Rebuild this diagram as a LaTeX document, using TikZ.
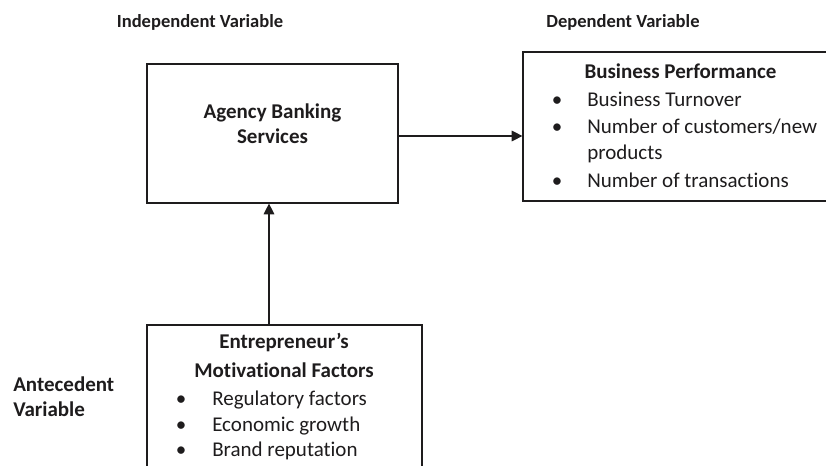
\documentclass[tikz,border=0pt]{standalone}
\usepackage{fontspec}
\setmainfont{Carlito}[Ligatures=NoCommon]
\usetikzlibrary{arrows.meta,calc}
\definecolor{ink}{HTML}{1E1C1D}
\begin{document}
\begin{tikzpicture}[x=0.75pt,y=0.75pt,yscale=-1,xscale=1,
  varbox/.style={draw=ink,line width=0.9pt,inner sep=0pt},
  headlbl/.style={text=ink,inner sep=0pt,anchor=base,font=\fontsize{13.9}{16}\selectfont\bfseries},
  boldlbl/.style={text=ink,inner sep=0pt,anchor=base,font=\fontsize{15.75}{19}\selectfont\bfseries},
  itemlbl/.style={text=ink,inner sep=0pt,anchor=base west,font=\fontsize{15.75}{19}\selectfont},
  bulletmark/.style={text=ink,inner sep=0pt,anchor=base,font=\fontsize{15.75}{19}\selectfont},
  arr/.style={draw=ink,line width=0.8pt,-{Triangle[length=8pt,width=8pt]}}]
\useasboundingbox (0,0) rectangle (826,466);
\clip (0,0) rectangle (826,466);
% boxes
\node (abs) [varbox,minimum width=188.25pt,minimum height=104.25pt] at (272.5,133.5) {};
\node (perf) [varbox,minimum width=241.5pt,minimum height=111.75pt] at (684,126.5) {};
\node (mot) [varbox,minimum width=206.25pt,minimum height=123.75pt] at (284.5,407.5) {};
% column headings
\node (indep) [headlbl] at (200,27.3) {Independent Variable};
\node (dep) [headlbl] at (623,27.3) {Dependent Variable};
\node (ante1) [boldlbl,anchor=base west] at (13,392) {Antecedent};
\node (ante2) [boldlbl,anchor=base west] at (13,417) {Variable};
% independent
\node (abs1) [boldlbl] at (272.5,119) {Agency Banking};
\node (abs2) [boldlbl] at (272.5,144) {Services};
% dependent
\node (perfhd) [boldlbl] at (680.5,79) {Business Performance};
\node (pb1) [bulletmark] at (557,107) {\textbullet};
\node (pt1) [itemlbl] at (587,107) {Business Turnover};
\node (pb2) [bulletmark] at (557,134) {\textbullet};
\node (pt2) [itemlbl] at (587,134) {Number of customers/new};
\node (pt2b) [itemlbl] at (587,160) {products};
\node (pb3) [bulletmark] at (557,188) {\textbullet};
\node (pt3) [itemlbl] at (587,188) {Number of transactions};
% antecedent
\node (mothd1) [boldlbl] at (284,349) {Entrepreneur’s};
\node (mothd2) [boldlbl] at (284,378) {Motivational Factors};
\node (mb1) [bulletmark] at (181,406) {\textbullet};
\node (mt1) [itemlbl] at (212,406) {Regulatory factors};
\node (mb2) [bulletmark] at (181,432) {\textbullet};
\node (mt2) [itemlbl] at (212,432) {Economic growth};
\node (mb3) [bulletmark] at (181,457) {\textbullet};
\node (mt3) [itemlbl] at (212,457) {Brand reputation};
% arrows
\coordinate (right) at ($(abs.east)+(0,2.5)$);
\coordinate (up) at ($(abs.south)+(-3.5,0)$);
\draw [arr] (right) -- (right -| perf.west);
\draw [arr] (up |- mot.north) -- (up);
\end{tikzpicture}
\end{document}
